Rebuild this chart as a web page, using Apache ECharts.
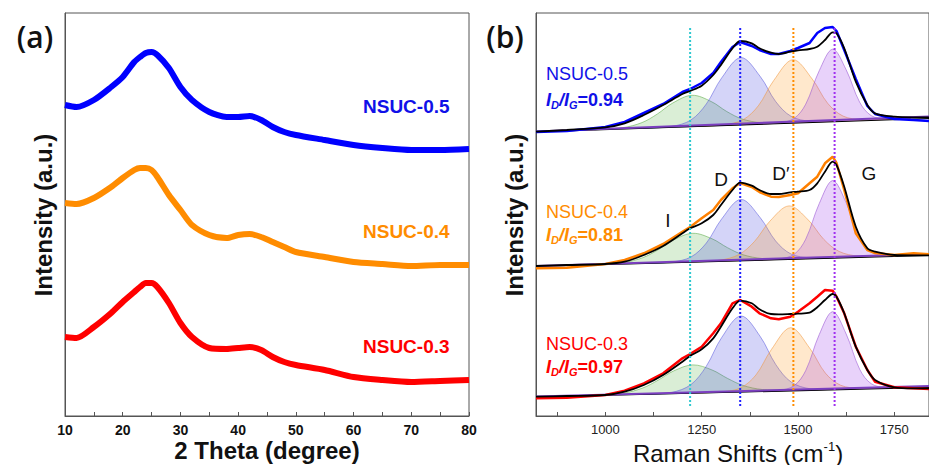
<!DOCTYPE html>
<html><head><meta charset="utf-8">
<script src="https://cdn.jsdelivr.net/npm/echarts@6/dist/echarts.min.js"></script>
<style>html,body{margin:0;padding:0;background:#fff}#c{width:929px;height:465px}</style>
</head><body><div id="c"></div>
<script>
// ---------- (a) XRD ----------
const xrdTheta = [10,12,15,18,20,22,23,24,25,26,28,30,32,35,38,40,42,44,46,48,50,55,60,65,70,75,80];
const xrd05 = [311,309,316,329,339,354,359,363,364,361,348,329,316,304,299,299,300,296,289,284,281,276,271,268,266,266,267];
const xrd04 = [213,212,218,229,238,246,248,248,246,239,221,206,191,181,178,181,182,179,174,169,164,159,154,152,150,151,151];
const xrd03 = [79,78,89,103,114,124,129,133,133,129,113,93,79,68,67,68,69,66,59,54,51,46,39,36,34,35,36];
const xrdTicks = [10,20,30,40,50,60,70,80];

// ---------- (b) Raman ----------
const ramanX = [820,900,1000,1050,1100,1150,1200,1220,1250,1280,1300,1330,1350,1380,1400,1430,1450,1480,1500,1530,1550,1570,1590,1600,1620,1650,1680,1700,1750,1800,1840];
const data05 = [284,285,289,294,303,312,324,327,333,343,354,369,374,370,366,362,362,365,368,373,383,388,389,385,366,337,310,302,297,296,295];
const fit05  = [284.3,286,288.7,292.7,301,311,322,325,330.3,341,351,367.7,375,372.7,367.7,363.3,362,364.3,365.7,367,369.3,376,383.7,382.7,367.7,334.3,311,302.7,299.3,298.7,298.7];
const data04 = [147.7,148.3,152,156,162.7,172,184.3,189,197.7,206,216,227.7,233,229,224,219.3,219,221,222.7,232.7,239.3,252.7,259.3,253,226,182.7,166,163,161,162.7,161.7];
const fit04  = [150,151,152,154.3,161,170,182.7,187.7,192.7,201,211,226,233.3,230.3,226,222,222,223.7,224.3,226,232.7,244.3,254.3,251,229.3,189.3,167.7,164.3,161,160.7,160.7];
const data03 = [17.7,18.3,21,25.3,32.7,42.7,57.7,62,69.3,82.7,92.7,112.7,116,109.3,102.7,97.7,96.7,99.3,104.3,112.7,119.3,126,125.3,119.3,102.7,69.3,46,34.3,28.7,27.7,27];
const fit03  = [19.3,20,21,24.3,31,41,54.3,60,66.7,77.7,89.3,107.7,115.3,112.7,106.7,102,101.7,102,102.3,103.3,108.7,116,122,119.3,102.7,69.3,46,36,28.7,27.7,27.7];

// baselines [x, y] end points
const base05 = [[820,284.5],[1840,299.5]];
const baseFit05 = [[820,284],[1840,297.5]];
const base04 = [[820,150],[1840,162]];
const baseFit04 = [[820,149.5],[1840,160.5]];
const base03 = [[820,19.5],[1840,30]];
const baseFit03 = [[820,19],[1840,28.5]];

// fitted components (absolute curve points, start/end on baseline)
const peakI05  = [[975,286.3],[1045,288.3],[1095,293.4],[1135,302],[1175,313],[1225,320.7],[1275,314.4],[1315,304.5],[1355,297],[1405,293.3],[1475,293.2]];
const peakD05  = [[1102,287.9],[1172,289.6],[1222,296.0],[1262,312.0],[1302,338.1],[1352,358.4],[1402,339.5],[1442,314.5],[1482,299.7],[1532,294.7],[1602,295.0]];
const peakD205 = [[1237,289.8],[1307,291.2],[1357,296.2],[1397,310.2],[1437,335.5],[1487,356.3],[1537,336.9],[1577,312.7],[1617,299.9],[1667,296.3],[1737,296.8]];
const peakG05  = [[1390,292.0],[1450,293.1],[1490,297.6],[1520,311.8],[1555,345.2],[1590,366.8],[1625,346.2],[1660,313.8],[1690,300.4],[1730,297.0],[1790,297.6]];

const peakI04  = [[977,151.4],[1047,153.4],[1097,158.3],[1137,166.2],[1177,176.0],[1227,182.7],[1277,177.2],[1317,168.3],[1357,161.3],[1407,157.5],[1477,157.2]];
const peakD04  = [[1102,152.7],[1172,154.0],[1222,159.0],[1262,172.9],[1302,197.1],[1352,216.6],[1402,198.3],[1442,175.0],[1482,162.0],[1532,158.2],[1602,158.5]];
const peakD204 = [[1227,154.2],[1297,155.8],[1347,161.5],[1387,174.5],[1427,194.8],[1477,210.1],[1527,195.9],[1567,176.6],[1607,164.5],[1657,159.9],[1727,159.9]];
const peakG04  = [[1390,156.1],[1450,157.0],[1490,161.7],[1520,176.8],[1555,212.3],[1590,235.4],[1625,213.2],[1660,178.5],[1690,164.0],[1730,160.3],[1790,160.7]];

const peakI03  = [[977,20.7],[1047,22.9],[1097,28.0],[1137,35.8],[1177,45.0],[1227,51.1],[1277,46.0],[1317,37.6],[1357,30.6],[1407,26.5],[1477,25.7]];
const peakD03  = [[1102,21.8],[1172,23.6],[1222,31.4],[1262,49.8],[1302,78.5],[1352,100.0],[1402,79.5],[1442,51.6],[1482,34.0],[1532,27.2],[1602,26.8]];
const peakD203 = [[1231,23.1],[1301,24.1],[1351,28.1],[1391,41.1],[1431,66.5],[1481,88.3],[1531,67.5],[1571,42.9],[1611,30.7],[1661,27.7],[1731,28.1]];
const peakG03  = [[1390,24.7],[1450,25.6],[1490,30.3],[1520,45.4],[1555,81.3],[1590,104.3],[1625,82.0],[1660,46.8],[1690,32.3],[1730,28.4],[1790,28.7]];

// vertical marker positions (I, D, D', G)
const markerX = [1220,1350,1488,1595];
const markerSpan = [10,388];
const ramanLabelTicks = [1000,1250,1500,1750];
const ramanMinorTicks = [875,1000,1125,1250,1375,1500,1625,1750];

const FONT = '"Liberation Sans", Arial, sans-serif';
const zip = (xs, ys) => xs.map((x, i) => [x, ys[i]]);

const compStyle = {
  I:  {fill:'rgba(70,170,50,0.2)',  stroke:'rgba(90,170,70,0.55)'},
  D:  {fill:'rgba(40,40,220,0.2)',  stroke:'rgba(80,80,220,0.5)'},
  D2: {fill:'rgba(255,140,0,0.2)',  stroke:'rgba(240,150,60,0.55)'},
  G:  {fill:'rgba(150,50,230,0.22)',stroke:'rgba(150,80,210,0.55)'}
};
function comp(points, st) {
  return {
    type:'custom', xAxisIndex:1, yAxisIndex:1, data: points, silent:true, z:1,
    renderItem: function (params, api) {
      if (params.dataIndex !== 0) return null;
      const pts = points.map(p => api.coord(p));
      return {type:'polygon', shape:{points:pts, smooth:0.35},
              style:{fill:st.fill, stroke:st.stroke, lineWidth:1}};
    }
  };
}
function line(xi, data, color, width, smooth, z, type) {
  return {type:'line', xAxisIndex:xi, yAxisIndex:xi, data, showSymbol:false, symbol:'none',
          smooth: smooth, silent:true, z: z,
          lineStyle:{color, width, type: type || 'solid'}};
}

const series = [
  line(0, zip(xrdTheta, xrd05), '#0000FF', 6, 0.25, 2),
  line(0, zip(xrdTheta, xrd04), '#FF8C00', 6, 0.25, 2),
  line(0, zip(xrdTheta, xrd03), '#FF0000', 6, 0.25, 2)
];
const spectra = [
  {I:peakI05, D:peakD05, D2:peakD205, G:peakG05, base:base05, baseFit:baseFit05, data:data05, fit:fit05, color:'#0000FF'},
  {I:peakI04, D:peakD04, D2:peakD204, G:peakG04, base:base04, baseFit:baseFit04, data:data04, fit:fit04, color:'#FF8000'},
  {I:peakI03, D:peakD03, D2:peakD203, G:peakG03, base:base03, baseFit:baseFit03, data:data03, fit:fit03, color:'#FF0000'}
];
spectra.forEach(s => {
  series.push(comp(s.I, compStyle.I), comp(s.D, compStyle.D), comp(s.D2, compStyle.D2), comp(s.G, compStyle.G));
  series.push(line(1, s.baseFit, '#000000', 1.2, false, 3));
  series.push(line(1, s.base, '#7B3FC0', 2, false, 3));
  series.push(line(1, zip(ramanX, s.data), s.color, 2.5, false, 4));
  series.push(line(1, zip(ramanX, s.fit), '#000000', 1.8, 0.3, 5));
});
const markerColors = ['#30C8D0','#2020FF','#FF8C00','#A030F0'];
markerX.forEach((x, i) => {
  series.push(line(1, [[x, markerSpan[0]],[x, markerSpan[1]]], markerColors[i], 2, false, 6, [2,2]));
});

function txt(x, y, text, opt) {
  return {type:'text', x, y, z:100, rotation: opt.rot || 0,
    style: Object.assign({text, fontFamily: FONT, textAlign: opt.align || 'left', textVerticalAlign:'middle'}, opt.style)};
}
const subRich = (color) => ({
  i:{fontFamily:FONT, fontSize:18, fontWeight:'bold', fontStyle:'italic', fill:color, lineHeight:20},
  s:{fontFamily:FONT, fontSize:11, fontWeight:'bold', fontStyle:'italic', fill:color, lineHeight:12, verticalAlign:'bottom'},
  b:{fontFamily:FONT, fontSize:18, fontWeight:'bold', fill:color, lineHeight:20}
});
const ratioText = v => '{i|I}{s|D}{i|/I}{s|G}{b|=' + v + '}';

const graphic = [
  txt(35, 36, '(a)', {align:'center', style:{fontFamily:'"Open Sans", sans-serif', fontSize:30, fontWeight:600, fill:'#111'}}),
  txt(505, 36, '(b)', {align:'center', style:{fontFamily:'"Open Sans", sans-serif', fontSize:30, fontWeight:600, fill:'#111'}}),
  txt(43, 215, 'Intensity (a.u.)', {align:'center', rot:Math.PI/2, style:{fontSize:24, fontWeight:'bold', fill:'#111'}}),
  txt(514, 215, 'Intensity (a.u.)', {align:'center', rot:Math.PI/2, style:{fontSize:24, fontWeight:'bold', fill:'#111'}}),
  txt(267, 450, '2 Theta (degree)', {align:'center', style:{fontSize:24, fontWeight:'bold', fill:'#111'}}),
  txt(738, 453, '{n|Raman Shifts (cm}{p|-1}{n|)}', {align:'center', style:{rich:{
      n:{fontFamily:FONT, fontSize:24, fill:'#111', lineHeight:26},
      p:{fontFamily:FONT, fontSize:13, fill:'#111', lineHeight:16, verticalAlign:'top'}}}}),
  txt(363, 106, 'NSUC-0.5', {style:{fontSize:19, fontWeight:'bold', fill:'#1010E8'}}),
  txt(363, 231, 'NSUC-0.4', {style:{fontSize:19, fontWeight:'bold', fill:'#FF8C00'}}),
  txt(363, 346, 'NSUC-0.3', {style:{fontSize:19, fontWeight:'bold', fill:'#FF0000'}}),
  txt(546, 74, 'NSUC-0.5', {style:{fontSize:18, fill:'#1010E8'}}),
  txt(546, 100, ratioText('0.94'), {style:{rich:subRich('#1010E8')}}),
  txt(546, 212, 'NSUC-0.4', {style:{fontSize:18, fill:'#FF8C00'}}),
  txt(546, 235, ratioText('0.81'), {style:{rich:subRich('#FF8C00')}}),
  txt(546, 344, 'NSUC-0.3', {style:{fontSize:18, fill:'#FF0000'}}),
  txt(546, 367, ratioText('0.97'), {style:{rich:subRich('#FF0000')}}),
  txt(668, 220, 'I', {align:'center', style:{fontSize:19, fill:'#111'}}),
  txt(721, 179, 'D', {align:'center', style:{fontSize:19, fill:'#111'}}),
  txt(781, 173, 'D\u2032', {align:'center', style:{fontSize:19, fill:'#111'}}),
  txt(869, 173, 'G', {align:'center', style:{fontSize:19, fill:'#111'}})
];

const option = {
  animation:false,
  backgroundColor:'#fff',
  grid:[
    {left:65, top:13, width:404, height:403, show:true, borderColor:'#555', borderWidth:1},
    {left:536, top:13, width:401, height:403, show:true, borderColor:'#555', borderWidth:1}
  ],
  xAxis:[
    {type:'value', gridIndex:0, min:10, max:80, interval:10,
     axisLine:{show:true, lineStyle:{color:'#555'}},
     axisTick:{show:true, inside:true, length:4, lineStyle:{color:'#555'}},
     minorTick:{show:true, splitNumber:2, length:4, lineStyle:{color:'#555'}},
     splitLine:{show:false},
     axisLabel:{fontFamily:FONT, fontSize:14, fontWeight:'bold', color:'#111', margin:7,
       customValues: xrdTicks, formatter: v => String(v)}},
    {type:'value', gridIndex:1, min:820, max:1840,
     axisLine:{show:true, lineStyle:{color:'#555'}},
     axisTick:{show:true, inside:true, length:4, lineStyle:{color:'#555'}, customValues: ramanMinorTicks},
     splitLine:{show:false},
     axisLabel:{fontFamily:FONT, fontSize:13, color:'#222', margin:7, customValues: ramanLabelTicks,
       formatter: v => String(v)}}
  ],
  yAxis:[
    {type:'value', gridIndex:0, min:0, max:403, axisLine:{show:true, lineStyle:{color:'#555'}}, axisTick:{show:false}, axisLabel:{show:false}, splitLine:{show:false}},
    {type:'value', gridIndex:1, min:0, max:403, axisLine:{show:true, lineStyle:{color:'#555'}}, axisTick:{show:false}, axisLabel:{show:false}, splitLine:{show:false}}
  ],
  series,
  graphic
};
const chart = echarts.init(document.getElementById('c'), null, {renderer:'svg'});
chart.setOption(option);
</script></body></html>
